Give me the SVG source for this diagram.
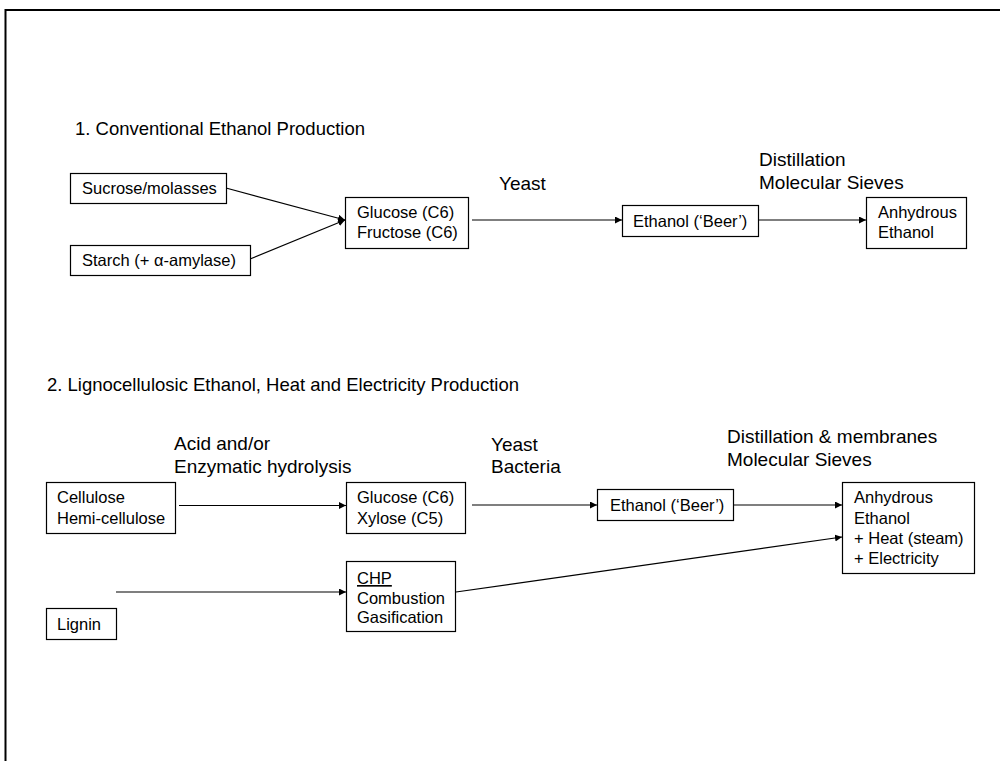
<svg xmlns="http://www.w3.org/2000/svg" width="1000" height="761" viewBox="0 0 1000 761">
<style>
text{font-family:"Liberation Sans",Arial,sans-serif;fill:#000}
.t{font-size:16.5px}
.lbl{font-size:19px}
.ttl{font-size:18.5px}
.box{fill:#fff;stroke:#000;stroke-width:1.2}
.ln{fill:none;stroke:#000;stroke-width:1.2}
</style>
<defs>
<marker id="ah" markerUnits="userSpaceOnUse" markerWidth="8" markerHeight="8" refX="7" refY="3.5" orient="auto">
<path d="M0,0 L7,3.5 L0,7 z" fill="#000"/>
</marker>
</defs>
<rect width="1000" height="761" fill="#fff"/>
<path d="M5.5,761 V10 H1000" fill="none" stroke="#000" stroke-width="2"/>

<text class="ttl" x="75" y="135">1. Conventional Ethanol Production</text>
<text class="ttl" x="47" y="391">2. Lignocellulosic Ethanol, Heat and Electricity Production</text>

<g id="labels">
<text class="lbl" x="499" y="190">Yeast</text>
<text class="lbl" x="759" y="166">Distillation</text>
<text class="lbl" x="759" y="189">Molecular Sieves</text>
<text class="lbl" x="174" y="450">Acid and/or</text>
<text class="lbl" x="174" y="473">Enzymatic hydrolysis</text>
<text class="lbl" x="491" y="451">Yeast</text>
<text class="lbl" x="491" y="473">Bacteria</text>
<text class="lbl" x="727" y="443">Distillation &amp; membranes</text>
<text class="lbl" x="727" y="466">Molecular Sieves</text>
</g>

<g id="connectors">
<line class="ln" x1="226" y1="188" x2="345" y2="220" marker-end="url(#ah)"/>
<line class="ln" x1="250" y1="259" x2="345" y2="220" marker-end="url(#ah)"/>
<line class="ln" x1="472" y1="220" x2="622" y2="220" marker-end="url(#ah)"/>
<line class="ln" x1="758" y1="220" x2="866" y2="220" marker-end="url(#ah)"/>
<line class="ln" x1="179" y1="505.5" x2="346" y2="505.5" marker-end="url(#ah)"/>
<line class="ln" x1="472" y1="505" x2="597" y2="505" marker-end="url(#ah)"/>
<line class="ln" x1="733" y1="505" x2="842" y2="505" marker-end="url(#ah)"/>
<line class="ln" x1="116" y1="592" x2="346" y2="592" marker-end="url(#ah)"/>
<line class="ln" x1="456" y1="592" x2="842" y2="537" marker-end="url(#ah)"/>
</g>

<g id="n-sucrose"><rect class="box" x="70.5" y="173.5" width="156" height="30"/><text class="t" x="82" y="194">Sucrose/molasses</text></g>
<g id="n-starch"><rect class="box" x="70.5" y="245.5" width="180" height="30"/><text class="t" x="82" y="266">Starch (+ α-amylase)</text></g>
<g id="n-glucose1"><rect class="box" x="345.5" y="197.5" width="123" height="51"/><text class="t" x="357" y="218">Glucose (C6)</text><text class="t" x="357" y="238">Fructose (C6)</text></g>
<g id="n-ethanol1"><rect class="box" x="622.5" y="205.5" width="136" height="31"/><text class="t" x="633" y="227">Ethanol (‘Beer’)</text></g>
<g id="n-anhydrous1"><rect class="box" x="866.5" y="197.5" width="100" height="51"/><text class="t" x="878" y="218">Anhydrous</text><text class="t" x="878" y="238">Ethanol</text></g>

<g id="n-cellulose"><rect class="box" x="46.5" y="482.5" width="129" height="51"/><text class="t" x="57" y="503">Cellulose</text><text class="t" x="57" y="524">Hemi-cellulose</text></g>
<g id="n-glucose2"><rect class="box" x="346.5" y="482.5" width="119" height="51"/><text class="t" x="357" y="503">Glucose (C6)</text><text class="t" x="357" y="524">Xylose (C5)</text></g>
<g id="n-ethanol2"><rect class="box" x="597.5" y="489.5" width="136" height="31"/><text class="t" x="610" y="511">Ethanol (‘Beer’)</text></g>
<g id="n-anhydrous2"><rect class="box" x="842.5" y="482.5" width="132" height="91"/><text class="t" x="854" y="503">Anhydrous</text><text class="t" x="854" y="524">Ethanol</text><text class="t" x="854" y="544">+ Heat (steam)</text><text class="t" x="854" y="564">+ Electricity</text></g>
<g id="n-chp"><rect class="box" x="346.5" y="561.5" width="109" height="70"/><text class="t" x="357" y="584" text-decoration="underline">CHP</text><text class="t" x="357" y="604">Combustion</text><text class="t" x="357" y="623">Gasification</text></g>
<g id="n-lignin"><rect class="box" x="46.5" y="608.5" width="70" height="31"/><text class="t" x="57" y="630">Lignin</text></g>
</svg>
